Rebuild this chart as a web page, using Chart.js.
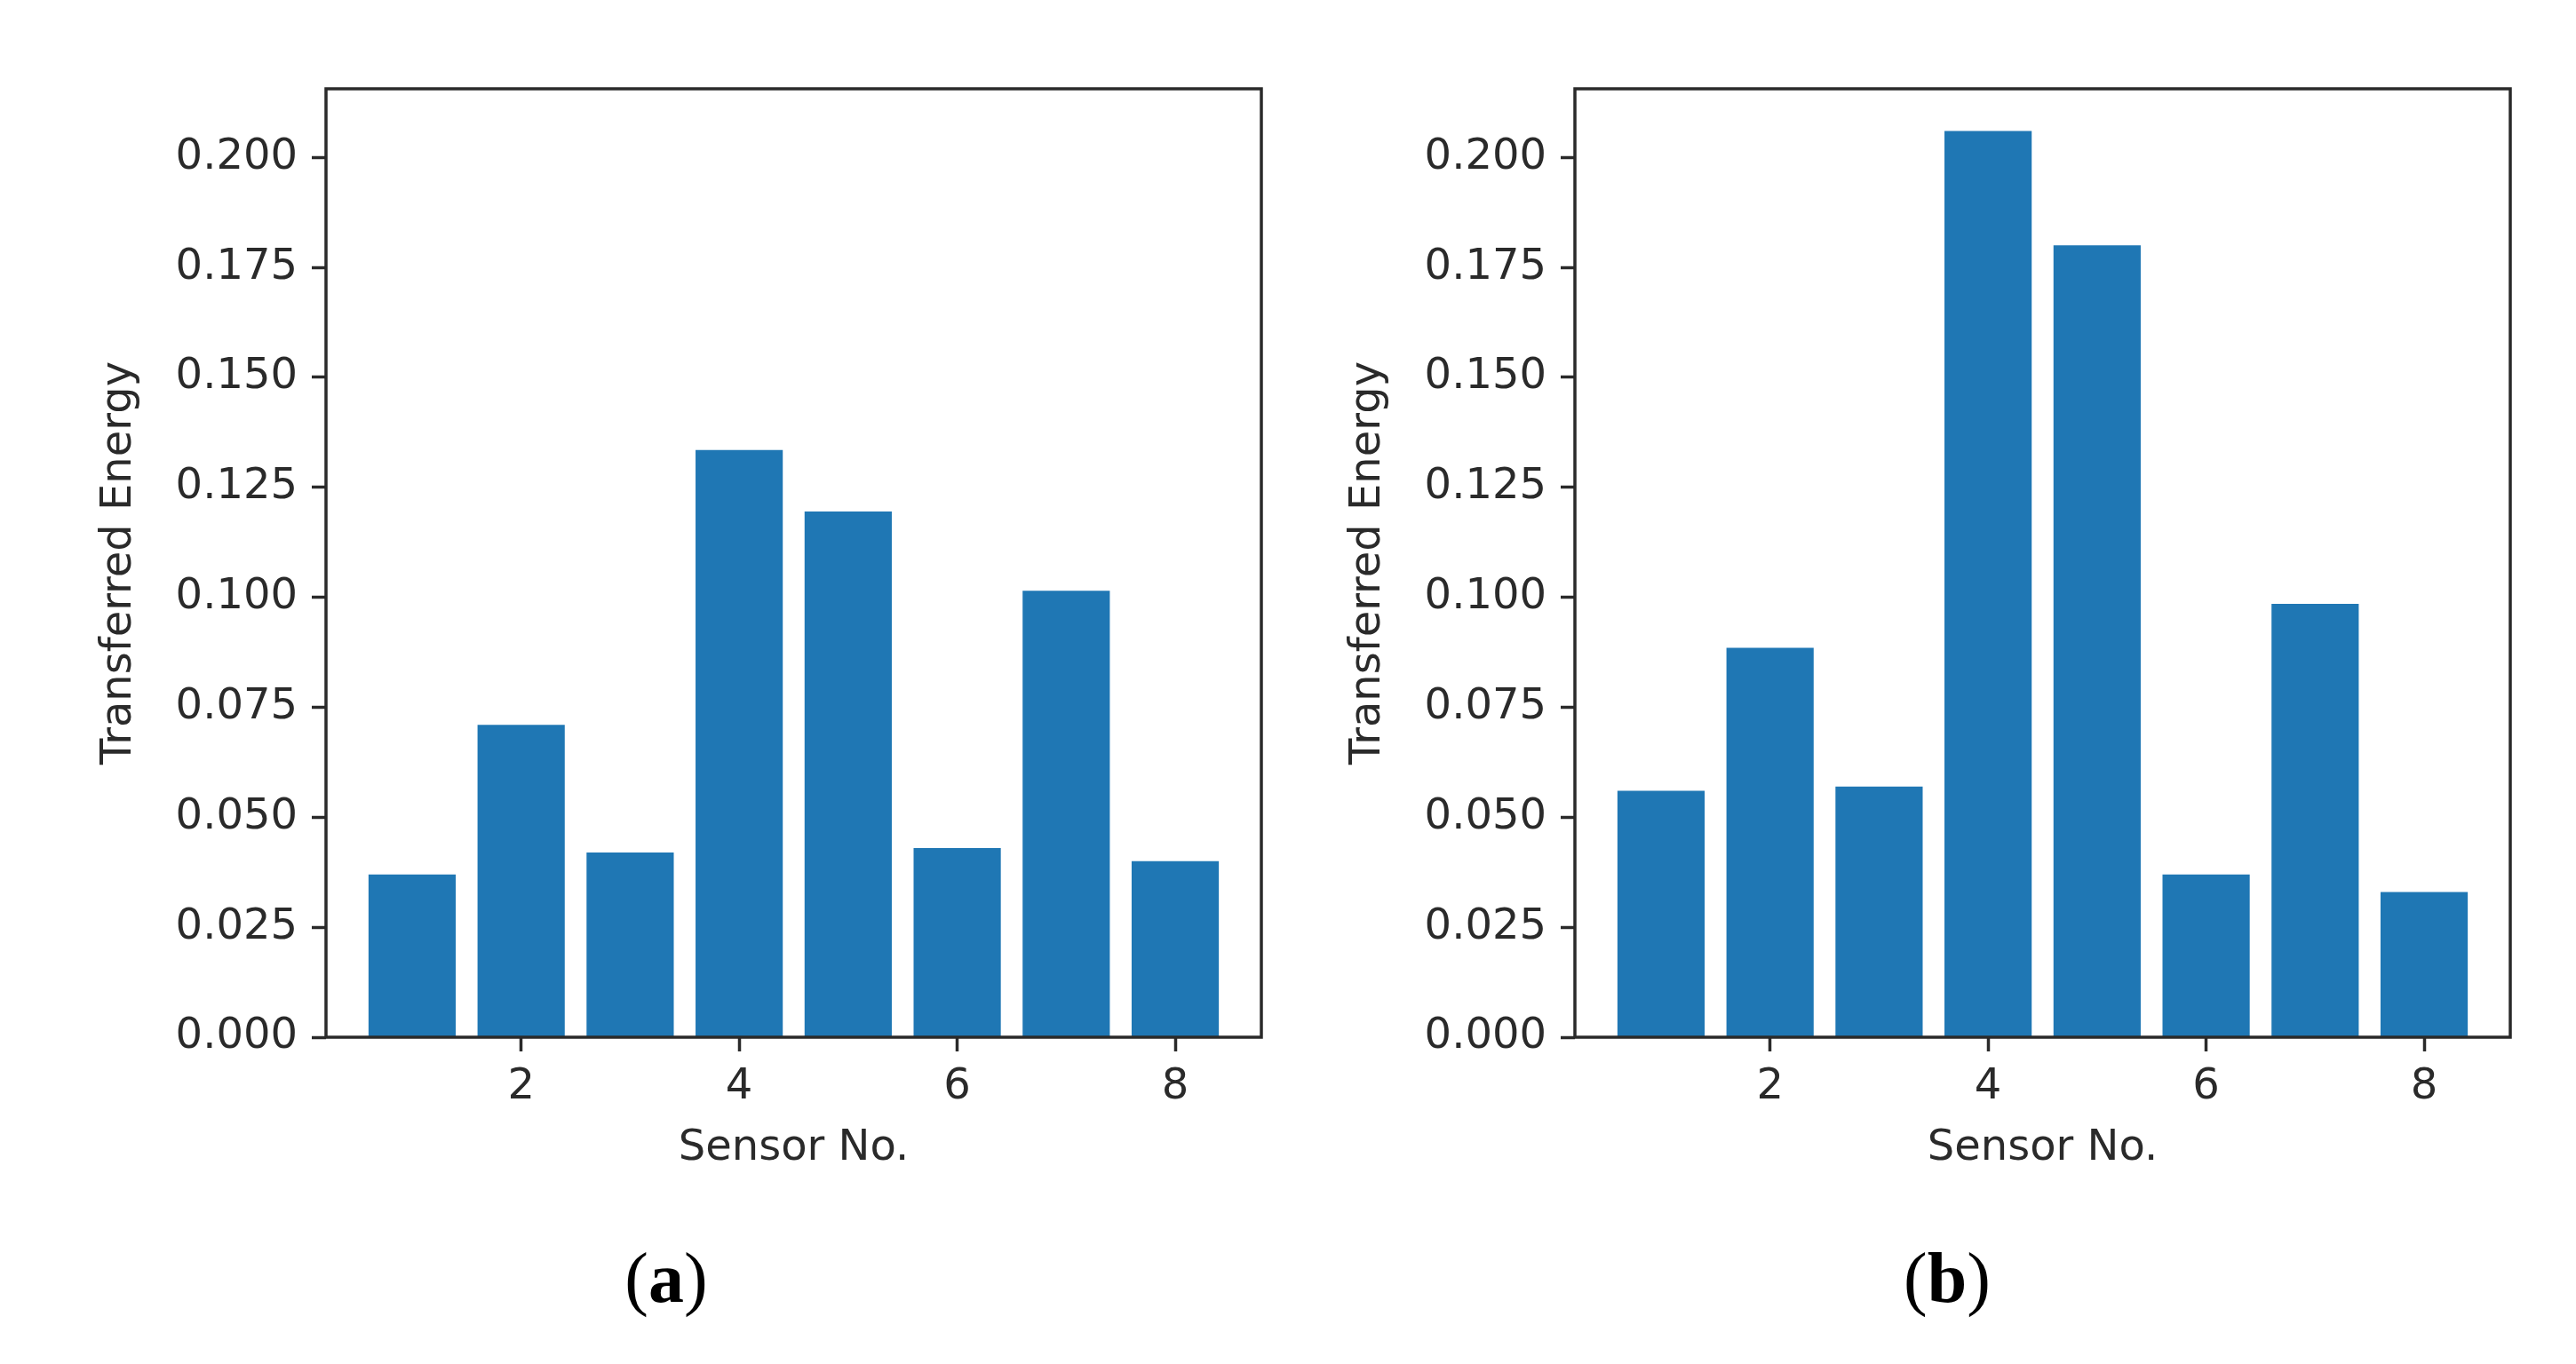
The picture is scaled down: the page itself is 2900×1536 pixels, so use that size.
<!DOCTYPE html>
<html>
<head>
<meta charset="utf-8">
<script src="https://cdn.jsdelivr.net/npm/chart.js@4.4.1/dist/chart.umd.min.js"></script>
<style>
  html, body { margin: 0; padding: 0; background: #fff; }
  #page { position: relative; width: 2900px; height: 1536px; overflow: hidden; }
  .panel { position: absolute; top: 0; width: 1450px; height: 1536px; }
  .caption {
    position: absolute; top: 1394px; width: 300px; text-align: center;
    font-family: "Liberation Serif", "DejaVu Serif", serif; font-size: 80px; color: #000;
  }
  .caption b { font-weight: bold; }
</style>
</head>
<body>
<div id="page">
  <div class="panel" style="left:0"><canvas id="chartA"></canvas></div>
  <div class="panel" style="left:1450px"><canvas id="chartB"></canvas></div>
  <div class="caption" style="left:600px">(<b>a</b>)</div>
  <div class="caption" style="left:2042px">(<b>b</b>)</div>
</div>
<script>
// values
const sensors = [1, 2, 3, 4, 5, 6, 7, 8];
const energyA = [0.037, 0.071, 0.042, 0.1335, 0.1195, 0.043, 0.1015, 0.040];
const energyB = [0.056, 0.0885, 0.057, 0.206, 0.180, 0.037, 0.0985, 0.033];
const xTicks = [2, 4, 6, 8];
const yTicks = [0, 0.025, 0.05, 0.075, 0.1, 0.125, 0.15, 0.175, 0.2];

const ink = '#2a2a2a';
const blue = '#1f77b4';
const font = { family: '"DejaVu Sans", sans-serif', size: 48 };

// matplotlib style box round the plot area
const frame = {
  id: 'frame',
  afterDatasetsDraw(chart) {
    const a = chart.chartArea;
    const c = chart.ctx;
    c.save();
    c.strokeStyle = ink;
    c.lineWidth = 3.5;
    c.strokeRect(a.left, a.top, a.right - a.left, a.bottom - a.top);
    c.restore();
  }
};

function makeChart(id, values, padLeft, padRight) {
  return new Chart(document.getElementById(id), {
    type: 'bar',
    data: {
      datasets: [{
        data: sensors.map((s, i) => ({ x: s, y: values[i] })),
        backgroundColor: blue,
        borderWidth: 0,
        categoryPercentage: 1,
        barPercentage: 0.8
      }]
    },
    options: {
      responsive: true,
      maintainAspectRatio: false,
      devicePixelRatio: 1,
      animation: false,
      layout: { padding: { left: padLeft, right: padRight, top: 100, bottom: 214 } },
      plugins: { legend: { display: false }, tooltip: { enabled: false } },
      scales: {
        x: {
          type: 'linear',
          min: 0.21,
          max: 8.79,
          offset: false,
          afterBuildTicks: (s) => { s.ticks = xTicks.map(v => ({ value: v })); },
          afterFit: (s) => { s.height = 154; },
          grid: { display: true, offset: false, drawOnChartArea: false, drawTicks: true,
                  tickLength: 16, tickWidth: 3.5, tickColor: ink },
          border: { display: false },
          ticks: { color: ink, font: font, padding: 12, maxRotation: 0 },
          title: { display: true, text: 'Sensor No.', color: ink, font: font,
                   padding: { top: 0, bottom: 0 } }
        },
        y: {
          min: 0,
          max: 0.2156,
          afterBuildTicks: (s) => { s.ticks = yTicks.map(v => ({ value: v })); },
          afterFit: (s) => { s.width = 323; },
          grid: { display: true, drawOnChartArea: false, drawTicks: true,
                  tickLength: 16, tickWidth: 3.5, tickColor: ink },
          border: { display: false },
          ticks: { color: ink, font: font, padding: 16, callback: (v) => v.toFixed(3) },
          title: { display: true, text: 'Transferred Energy', color: ink, font: font,
                   padding: { top: 62, bottom: 0 } }
        }
      }
    },
    plugins: [frame]
  });
}

makeChart('chartA', energyA, 44, 30);
makeChart('chartB', energyB, 0, 74);
</script>
</body>
</html>
